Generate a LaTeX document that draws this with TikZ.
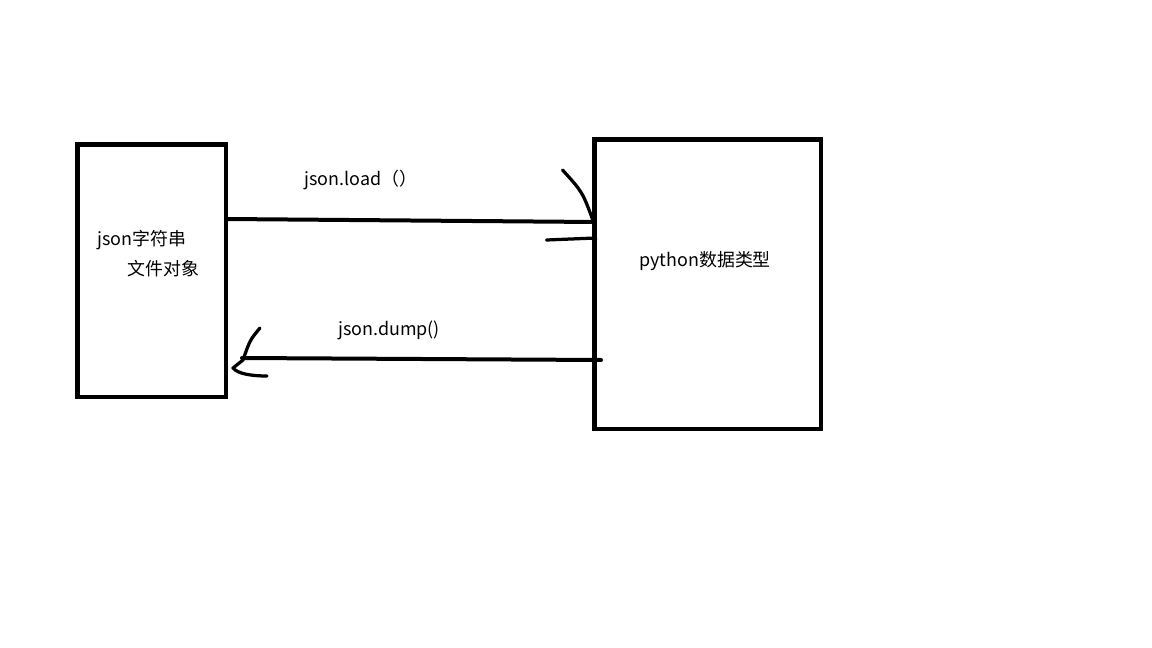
\documentclass[tikz,border=0pt]{standalone}
\usepackage{fontspec}
\newfontfamily\cjk{Noto Sans CJK SC}
\usetikzlibrary{calc}

\begin{document}
\begin{tikzpicture}[
    x=0.02cm, y=-0.02cm,
    every node/.style={font=\cjk\fontsize{10.2pt}{12pt}\selectfont, inner sep=0pt},
    box/.style={draw, line width=0.095cm, outer sep=0pt},
    wire/.style={line width=0.08cm, line cap=round},
    stroke/.style={line width=0.065cm, line cap=round, line join=round}
]
\useasboundingbox (0,0) rectangle (1152,648);
\node[box, minimum width=2.97cm, minimum height=5.05cm] (jsonbox) at (151.75,270.75) {};
\node[box, minimum width=4.53cm, minimum height=5.79cm] (pybox) at (707.75,284.25) {};
\node[anchor=west] (jsontext) at (97,240) {json字符串};
\node[anchor=west] (filetext) at (127,269) {文件对象};
\node[anchor=west] (pytext) at (639,261) {python数据类型};
\node (loadlabel) at (361,180) {json.load（）};
\node (dumplabel) at (389,330) {json.dump()};
% load: json -> python
\draw[wire] ($(jsonbox.east)+(0,-51.75)$) -- ($(pybox.west)+(0,-62.25)$) coordinate (loadEnd);
\draw[stroke, shift={(loadEnd)}] (-32,-52) .. controls (-12,-30) .. (-1,0) -- (1,18);
\draw[stroke, shift={(loadEnd)}] (-48,18) -- (1,16);
% dump: python -> json
\draw[wire] ($(pybox.west)+(6.5,75.75)$) -- ($(jsonbox.east)+(16,87.25)$) coordinate (dumpEnd);
\draw[stroke, shift={(dumpEnd)}] (18,-30) .. controls (8,-18) .. (1,2) -- (-9,10) .. controls (-4,16) and (10,18) .. (25,18);
\end{tikzpicture}
\end{document}
